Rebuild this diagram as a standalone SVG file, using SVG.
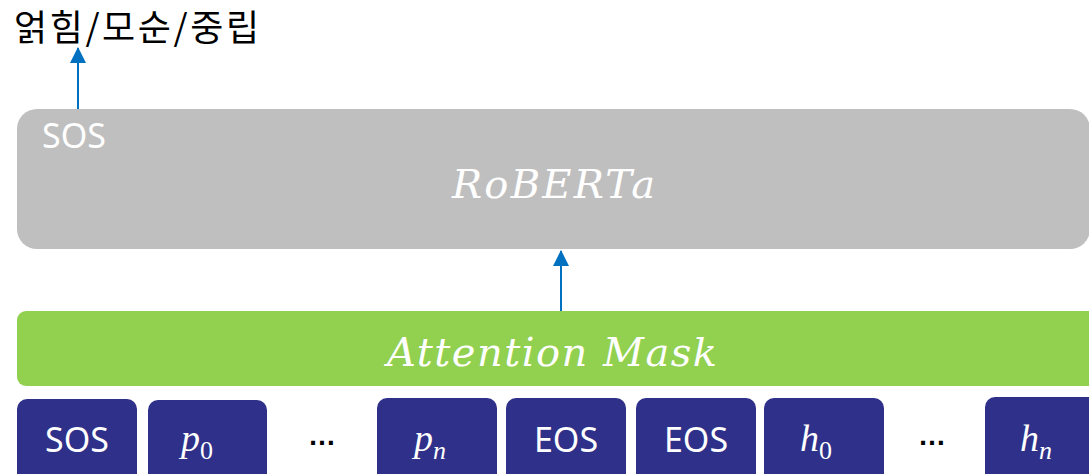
<svg xmlns="http://www.w3.org/2000/svg" width="1089" height="474" viewBox="0 0 1089 474">
  <style>
    .token { fill: #2E3089; }
    .sans { font-family: "Noto Sans", "Open Sans", sans-serif; fill: #FFFFFF; }
    .math { font-family: "DejaVu Serif", "Liberation Serif", serif; font-style: italic; fill: #FFFFFF; }
    .var { font-family: "Liberation Serif", "DejaVu Serif", serif; font-style: italic; fill: #FFFFFF; font-size: 38px; }
    .sub { font-style: normal; font-size: 26px; }
    .subi { font-size: 26px; }
    .dots { font-family: "Liberation Sans", sans-serif; font-weight: bold; fill: #000000; font-size: 28px; }
    .link { stroke: #0070C0; stroke-width: 2; fill: none; }
  </style>
  <defs>
    <marker id="head" markerUnits="userSpaceOnUse" markerWidth="16" markerHeight="16" viewBox="0 0 16 16" refX="15" refY="8" orient="auto">
      <path d="M0,0 L16,8 L0,16 Z" fill="#0070C0"/>
    </marker>
  </defs>

  <rect width="1089" height="474" fill="#FFFFFF"/>

  <!-- output label -->
  <g id="output">
    <text x="14" y="41" font-family="'Noto Sans CJK KR', sans-serif" font-size="36" fill="#000000" textLength="245" lengthAdjust="spacing">얽힘/모순/중립</text>
  </g>

  <!-- encoder block -->
  <g id="roberta">
    <rect x="17" y="109" width="1073" height="140" rx="20" fill="#BFBFBF"/>
    <text class="sans" x="42" y="148" font-size="34">SOS</text>
    <text class="math" x="452" y="198" font-size="40" textLength="203" lengthAdjust="spacing">RoBERTa</text>
  </g>

  <!-- mask layer -->
  <g id="attention-mask">
    <rect x="17" y="311" width="1090" height="75" rx="9" fill="#92D050"/>
    <text class="math" x="387" y="366" font-size="40" textLength="330" lengthAdjust="spacing">Attention Mask</text>
  </g>

  <!-- input tokens -->
  <g id="tok-sos">
    <rect class="token" x="17" y="399" width="120" height="90" rx="10"/>
    <text class="sans" x="77" y="452" font-size="34" text-anchor="middle">SOS</text>
  </g>
  <g id="tok-p0">
    <rect class="token" x="148" y="400" width="119" height="90" rx="10"/>
    <text class="var" x="181" y="451">p<tspan class="sub" dy="8">0</tspan></text>
  </g>
  <g id="dots-p">
    <text class="dots" x="322" y="445" text-anchor="middle">…</text>
  </g>
  <g id="tok-pn">
    <rect class="token" x="377" y="398" width="120" height="90" rx="10"/>
    <text class="var" x="414" y="451">p<tspan class="subi" dy="8">n</tspan></text>
  </g>
  <g id="tok-eos1">
    <rect class="token" x="506" y="398" width="120" height="90" rx="10"/>
    <text class="sans" x="566" y="452" font-size="34" text-anchor="middle">EOS</text>
  </g>
  <g id="tok-eos2">
    <rect class="token" x="636" y="398" width="120" height="90" rx="10"/>
    <text class="sans" x="696" y="452" font-size="34" text-anchor="middle">EOS</text>
  </g>
  <g id="tok-h0">
    <rect class="token" x="764" y="398" width="120" height="90" rx="10"/>
    <text class="var" x="800" y="451">h<tspan class="sub" dy="8">0</tspan></text>
  </g>
  <g id="dots-h">
    <text class="dots" x="932" y="445" text-anchor="middle">…</text>
  </g>
  <g id="tok-hn">
    <rect class="token" x="985" y="397" width="120" height="90" rx="10"/>
    <text class="var" x="1020" y="451">h<tspan class="subi" dy="8">n</tspan></text>
  </g>

  <!-- connectors -->
  <g id="connectors">
    <line class="link" x1="78" y1="109" x2="78" y2="48" marker-end="url(#head)"/>
    <line class="link" x1="561" y1="311" x2="561" y2="251" marker-end="url(#head)"/>
  </g>
</svg>
